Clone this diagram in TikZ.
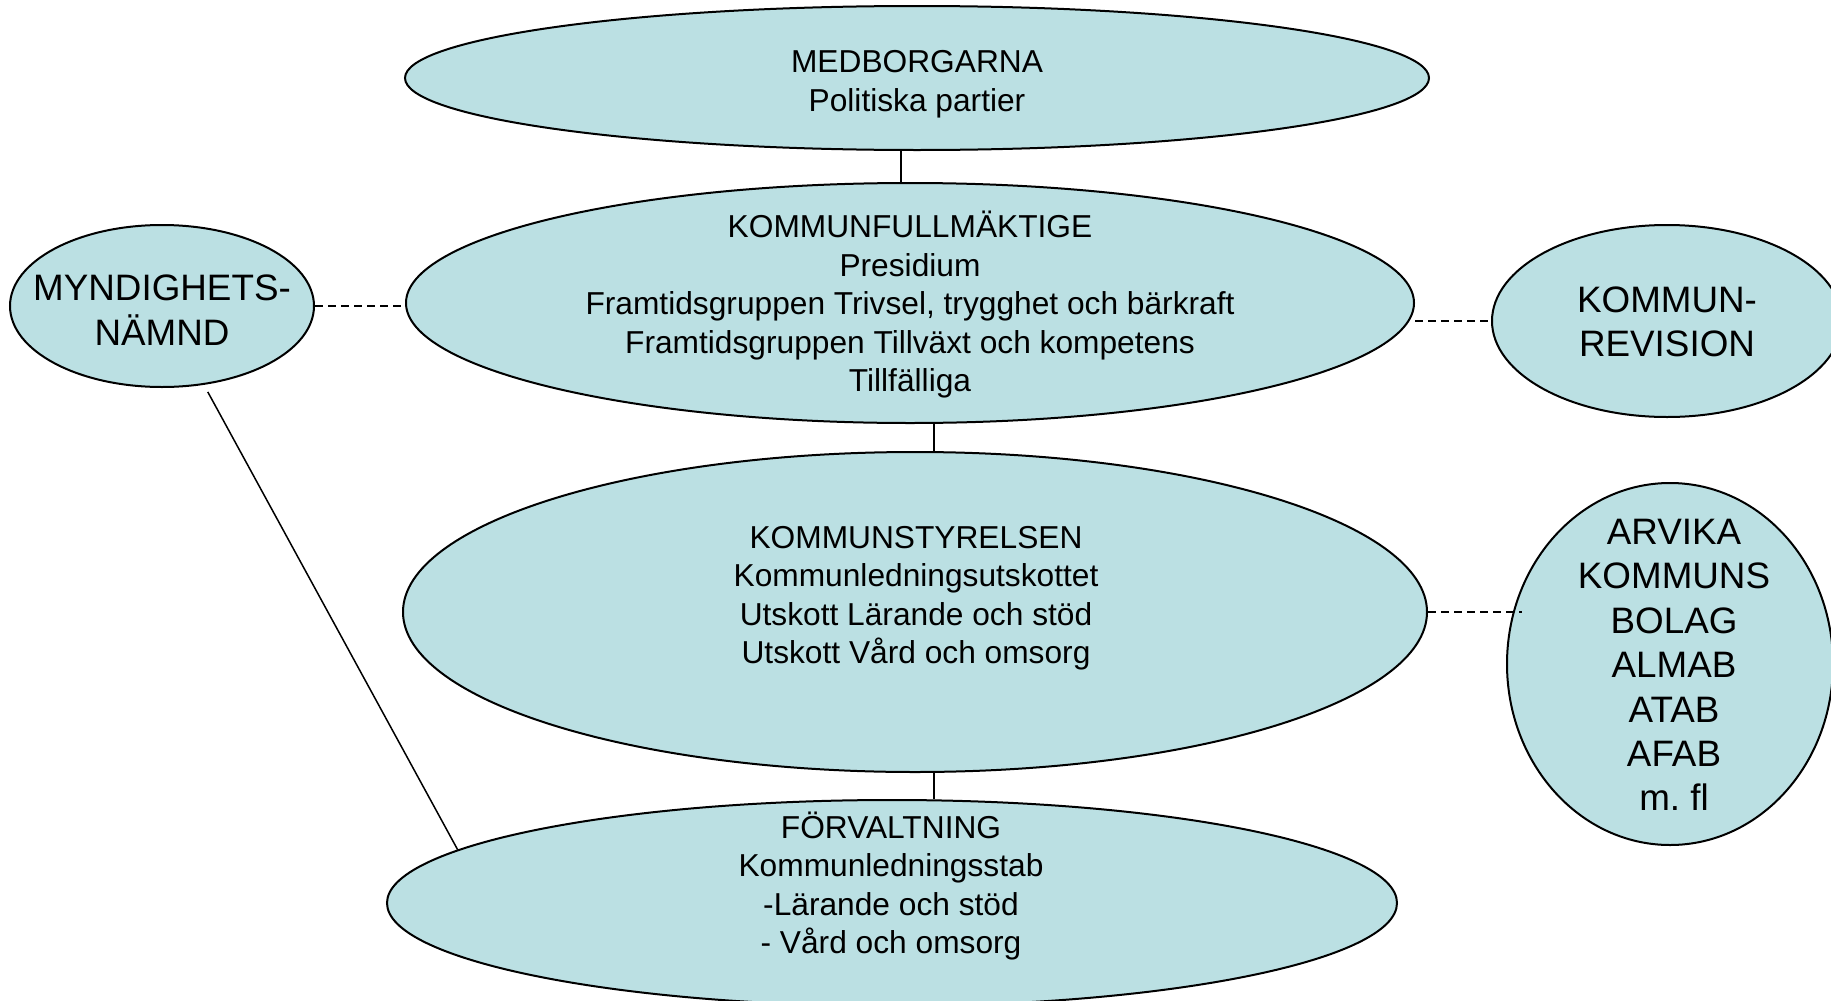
\documentclass[tikz,border=0pt]{standalone}
\usepackage{fontspec}
\setmainfont{Liberation Sans}
\usepackage{xcolor}
\usetikzlibrary{shapes.geometric}

\definecolor{orgfill}{RGB}{187,224,227}
\frenchspacing

\tikzset{
  org/.style={ellipse, draw, line width=1pt, fill=orgfill, inner sep=0pt},
  txt/.style={align=center, font=\fontsize{15.85}{19.25}\selectfont},
  bigtxt/.style={align=center, font=\fontsize{18.4}{22.2}\selectfont},
  link/.style={line width=0.75pt},
  dashlink/.style={line width=0.75pt, dash pattern=on 4pt off 2.5pt}
}

\begin{document}
\begin{tikzpicture}[x=0.5pt, y=-0.5pt]
\useasboundingbox (0,0) rectangle (1831,1001);

% ellipses
\node[org, minimum width=512pt, minimum height=72pt] (medb) at (917,78) {};
\node[org, minimum width=504pt, minimum height=120pt] (kf) at (910,303) {};
\node[org, minimum width=512pt, minimum height=160pt] (ks) at (915,612) {};
\node[org, minimum width=505pt, minimum height=103pt] (forv) at (892,903) {};
\node[org, minimum width=152pt, minimum height=81pt] (mynd) at (162,306) {};
\node[org, minimum width=175pt, minimum height=96pt] (rev) at (1667,321) {};
\node[org, minimum width=163pt, minimum height=181pt] (bolag) at (1670,664) {};

% texts
\node[txt] (medb-t) at (917,84) {MEDBORGARNA\\Politiska partier};
\node[txt] (kf-t) at (910,305) {KOMMUNFULLMÄKTIGE\\Presidium\\Framtidsgruppen Trivsel, trygghet och bärkraft\\Framtidsgruppen Tillväxt och kompetens\\Tillfälliga};
\node[txt] (ks-t) at (916,598) {KOMMUNSTYRELSEN\\Kommunledningsutskottet\\Utskott Lärande och stöd\\Utskott Vård och omsorg};
\node[txt] (forv-t) at (891,886) {FÖRVALTNING\\Kommunledningsstab\\-Lärande och stöd\\- Vård och omsorg};
\node[bigtxt] (mynd-t) at (162,310) {MYNDIGHETS-\\NÄMND};
\node[bigtxt] (rev-t) at (1667,322) {KOMMUN-\\REVISION};
\node[bigtxt] (bolag-t) at (1674,665) {ARVIKA\\KOMMUNS\\BOLAG\\ALMAB\\ATAB\\AFAB\\m. fl};

% connectors
\draw[link] ([xshift=-8pt]medb.south) -- ([xshift=-8pt]medb.south |- kf.north);
\draw[link] ([xshift=12pt]kf.south) -- ([xshift=12pt]kf.south |- ks.north);
\draw[link] ([xshift=9.5pt]ks.south) -- ([xshift=9.5pt]ks.south |- forv.north);
\draw[dashlink] (mynd.east) -- (mynd.east -| kf.west);
\draw[dashlink] (rev.west -| kf.east) -- (rev.west);
\draw[dashlink] (ks.east) -- ([xshift=8pt]ks.east -| bolag.west);
\draw[link, shorten <=4pt] (mynd.-62) -- (forv.173.8);
\end{tikzpicture}
\end{document}
